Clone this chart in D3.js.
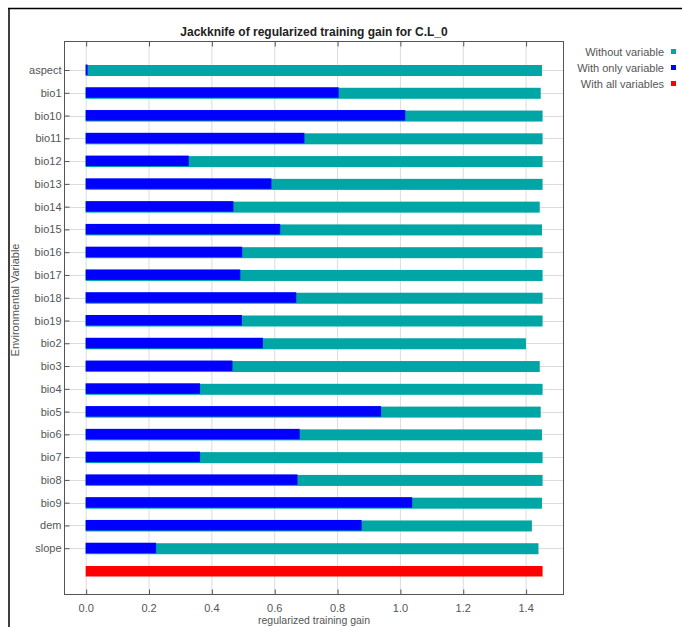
<!DOCTYPE html>
<html>
<head>
<meta charset="utf-8">
<script src="https://cdn.jsdelivr.net/npm/d3@7"></script>
<style>
	body { margin: 0; background: #fff; }
	text { font-family: "Liberation Sans", Arial, sans-serif; }
</style>
</head>
<body>
<script>
// Variables (rows, top to bottom)
const variables = ['aspect', 'bio1', 'bio10', 'bio11', 'bio12', 'bio13', 'bio14', 'bio15', 'bio16',
	'bio17', 'bio18', 'bio19', 'bio2', 'bio3', 'bio4', 'bio5', 'bio6', 'bio7', 'bio8', 'bio9', 'dem', 'slope'];

// Gain without each variable
const withoutVariable = [1.452, 1.448, 1.454, 1.454, 1.454, 1.454, 1.445, 1.452, 1.454,
	1.454, 1.454, 1.454, 1.401, 1.445, 1.454, 1.448, 1.452, 1.454, 1.454, 1.452, 1.420, 1.441];

// Gain with only each variable
const withOnlyVariable = [0.006, 0.805, 1.017, 0.696, 0.328, 0.591, 0.470, 0.619, 0.498,
	0.492, 0.670, 0.497, 0.564, 0.467, 0.364, 0.940, 0.681, 0.364, 0.674, 1.039, 0.878, 0.224];

// Gain with all variables
const withAllVariables = 1.454;

const xTicks = [0, 0.2, 0.4, 0.6, 0.8, 1.0, 1.2, 1.4];

const legendLabels = ['Without variable', 'With only variable', 'With all variables'];
const colors = ['#00a5a5', '#0000ff', '#ff0000'];

const W = 682, H = 627;
const pLeft = 64, pRight = 563, pTop = 41, pBottom = 594;

const svg = d3.select('body')
	.append('svg')
	.attr('width', W)
	.attr('height', H);

// Frame of the screenshot (top and left lines)
svg.append('line').attr('x1', 8).attr('x2', W).attr('y1', 8.5).attr('y2', 8.5)
	.attr('stroke', '#000').attr('stroke-width', 1.5);
svg.append('line').attr('x1', 9).attr('x2', 9).attr('y1', 8).attr('y2', H)
	.attr('stroke', '#000').attr('stroke-width', 1.5);

// Scales
const rows = variables.concat(['__all__']);
const yScale = d3.scalePoint()
	.domain(rows)
	.range([70, 571]);

const xScale = d3.scaleLinear()
	.domain([-0.069, 1.519])
	.range([pLeft, pRight]);

// Grid lines
svg.append('g')
	.selectAll('line')
	.data(xTicks)
	.enter()
	.append('line')
	.attr('x1', d => xScale(d) + 0.5)
	.attr('x2', d => xScale(d) + 0.5)
	.attr('y1', pTop)
	.attr('y2', pBottom)
	.attr('stroke', '#dcdcdc');

svg.append('g')
	.selectAll('line')
	.data(variables)
	.enter()
	.append('line')
	.attr('x1', pLeft)
	.attr('x2', pRight)
	.attr('y1', d => Math.round(yScale(d)) + 0.5)
	.attr('y2', d => Math.round(yScale(d)) + 0.5)
	.attr('stroke', '#dcdcdc');

// Bars: without variable (teal)
svg.append('g')
	.selectAll('rect')
	.data(variables)
	.enter()
	.append('rect')
	.attr('x', xScale(0))
	.attr('y', d => yScale(d) - 5)
	.attr('width', (d, i) => xScale(withoutVariable[i]) - xScale(0))
	.attr('height', 11)
	.attr('fill', colors[0]);

// Bars: with only variable (blue)
svg.append('g')
	.selectAll('rect')
	.data(variables)
	.enter()
	.append('rect')
	.attr('x', xScale(0))
	.attr('y', d => yScale(d) - 5.5)
	.attr('width', (d, i) => xScale(withOnlyVariable[i]) - xScale(0))
	.attr('height', 10.5)
	.attr('fill', colors[1]);

// Bar: with all variables (red)
svg.append('rect')
	.attr('x', xScale(0))
	.attr('y', yScale('__all__') - 5)
	.attr('width', xScale(withAllVariables) - xScale(0))
	.attr('height', 10.5)
	.attr('fill', colors[2]);

// Plot border
svg.append('rect')
	.attr('x', pLeft + 0.5)
	.attr('y', pTop + 0.5)
	.attr('width', pRight - pLeft)
	.attr('height', pBottom - pTop)
	.attr('fill', 'none')
	.attr('stroke', '#555');

// Y axis
const yAxis = svg.append('g')
	.attr('transform', `translate(${pLeft + 0.5},0)`)
	.call(d3.axisLeft(yScale).tickValues(variables).tickSizeInner(-5).tickSizeOuter(0).tickPadding(3));
yAxis.select('.domain').remove();
yAxis.selectAll('line').attr('stroke', '#555');
yAxis.selectAll('text').attr('fill', '#555').style('font-size', '11px');

// X axis (bottom)
const xAxis = svg.append('g')
	.attr('transform', `translate(0,${pBottom + 0.5})`)
	.call(d3.axisBottom(xScale).tickValues(xTicks).tickFormat(d3.format('.1f'))
		.tickSizeInner(-5).tickSizeOuter(0).tickPadding(10));
xAxis.select('.domain').remove();
xAxis.selectAll('line').attr('stroke', '#555').attr('transform', 'translate(0.5,0)');
xAxis.selectAll('text').attr('fill', '#555').style('font-size', '11px');

// Top ticks
const xTop = svg.append('g')
	.attr('transform', `translate(0,${pTop + 0.5})`)
	.call(d3.axisTop(xScale).tickValues(xTicks).tickFormat('').tickSizeInner(-5).tickSizeOuter(0));
xTop.select('.domain').remove();
xTop.selectAll('line').attr('stroke', '#555').attr('transform', 'translate(0.5,0)');

// Title
svg.append('text')
	.attr('x', 314)
	.attr('y', 36)
	.attr('text-anchor', 'middle')
	.style('font-size', '12px')
	.style('font-weight', 'bold')
	.attr('fill', '#222')
	.text('Jackknife of regularized training gain for C.L_0');

// Axis titles
svg.append('text')
	.attr('transform', 'translate(19,300) rotate(-90)')
	.attr('text-anchor', 'middle')
	.style('font-size', '11px')
	.attr('fill', '#555')
	.text('Environmental Variable');

svg.append('text')
	.attr('x', 314)
	.attr('y', 624)
	.attr('text-anchor', 'middle')
	.style('font-size', '10.5px')
	.attr('fill', '#555')
	.text('regularized training gain');

// Legend
const legend = svg.append('g')
	.selectAll('g')
	.data(legendLabels)
	.enter()
	.append('g')
	.attr('transform', (d, i) => `translate(0,${52 + i * 16})`);

legend.append('text')
	.attr('x', 664)
	.attr('y', 4)
	.attr('text-anchor', 'end')
	.style('font-size', '11px')
	.attr('fill', '#555')
	.text(d => d);

legend.append('rect')
	.attr('x', 671)
	.attr('y', -3)
	.attr('width', 5)
	.attr('height', 5)
	.attr('fill', (d, i) => colors[i]);
</script>
</body>
</html>
